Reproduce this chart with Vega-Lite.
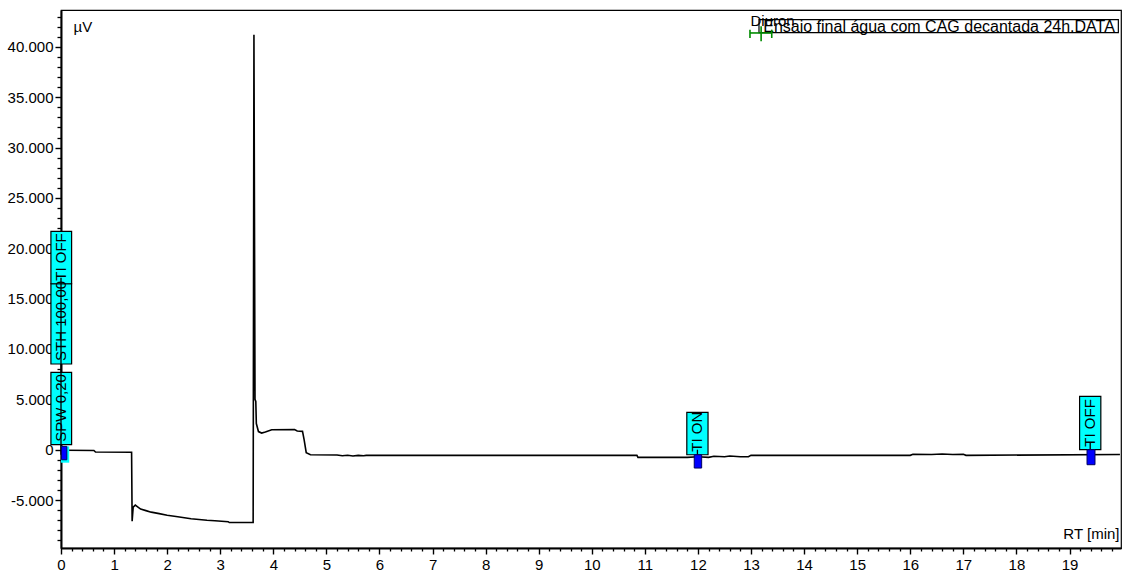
{
  "$schema": "https://vega.github.io/schema/vega-lite/v6.json",
  "width": 1060,
  "height": 538,
  "autosize": {"type": "none"},
  "padding": {"left": 61, "top": 10, "right": 4, "bottom": 24},
  "background": "white",
  "config": {
    "view": {"stroke": "black", "strokeWidth": 1.2},
    "font": "Liberation Sans",
    "axis": {"grid": false, "tickColor": "black", "domainColor": "black", "labelColor": "black", "titleColor": "black", "labelFont": "Liberation Sans", "titleFont": "Liberation Sans", "titleFontWeight": "normal"}
  },
  "datasets": {
    "trace": [
      {"t": 0.0, "v": -50}, {"t": 0.1, "v": -60}, {"t": 0.62, "v": -80}, {"t": 0.65, "v": -230},
      {"t": 1.33, "v": -250}, {"t": 1.34, "v": -7100}, {"t": 1.36, "v": -5700}, {"t": 1.4, "v": -5500},
      {"t": 1.45, "v": -5700}, {"t": 1.5, "v": -5900}, {"t": 1.6, "v": -6050}, {"t": 1.7, "v": -6200},
      {"t": 1.85, "v": -6350}, {"t": 2.0, "v": -6500}, {"t": 2.2, "v": -6650}, {"t": 2.45, "v": -6850},
      {"t": 2.75, "v": -7000}, {"t": 2.9, "v": -7050}, {"t": 3.15, "v": -7150}, {"t": 3.17, "v": -7230},
      {"t": 3.62, "v": -7230}, {"t": 3.635, "v": 41200}, {"t": 3.655, "v": 5000}, {"t": 3.67, "v": 4800},
      {"t": 3.68, "v": 2600}, {"t": 3.72, "v": 1800}, {"t": 3.78, "v": 1650}, {"t": 3.85, "v": 1750},
      {"t": 3.97, "v": 1980}, {"t": 4.4, "v": 1990}, {"t": 4.45, "v": 1850}, {"t": 4.55, "v": 1820},
      {"t": 4.58, "v": 1000}, {"t": 4.62, "v": -300}, {"t": 4.7, "v": -500}, {"t": 5.2, "v": -520},
      {"t": 5.3, "v": -600}, {"t": 5.4, "v": -550}, {"t": 5.5, "v": -620}, {"t": 5.6, "v": -560},
      {"t": 5.7, "v": -600}, {"t": 5.75, "v": -560}, {"t": 6.0, "v": -560}, {"t": 10.85, "v": -560},
      {"t": 10.87, "v": -760}, {"t": 11.8, "v": -760}, {"t": 12.0, "v": -700}, {"t": 12.2, "v": -760},
      {"t": 12.3, "v": -650}, {"t": 12.5, "v": -700}, {"t": 12.6, "v": -620}, {"t": 12.8, "v": -700},
      {"t": 12.95, "v": -700}, {"t": 13.0, "v": -560}, {"t": 16.0, "v": -560}, {"t": 16.05, "v": -450},
      {"t": 16.4, "v": -470}, {"t": 16.6, "v": -430}, {"t": 16.8, "v": -470}, {"t": 17.0, "v": -450},
      {"t": 17.05, "v": -560}, {"t": 19.95, "v": -480}
    ],
    "boxes": [
      {"label": "SPW 0,20", "x": -0.19, "x2": 0.2, "xc": 0.0, "y": 500, "y2": 7680, "ty": 800},
      {"label": "STH 100,00", "x": -0.19, "x2": 0.2, "xc": 0.0, "y": 8510, "y2": 16480, "ty": 8810},
      {"label": "TI OFF", "x": -0.19, "x2": 0.2, "xc": 0.0, "y": 16480, "y2": 21680, "ty": 16780},
      {"label": "TI ON", "x": 11.79, "x2": 12.19, "xc": 11.99, "y": -500, "y2": 3700, "ty": -200},
      {"label": "TI OFF", "x": 19.19, "x2": 19.59, "xc": 19.39, "y": 0, "y2": 5290, "ty": 300}
    ],
    "backs": [
      {"x": 0.0, "x2": 0.155, "y": 330, "y2": -1290}
    ],
    "markers": [
      {"x": 0.01, "x2": 0.11, "y": 330, "y2": -1000},
      {"x": 11.93, "x2": 12.07, "y": -500, "y2": -1820},
      {"x": 19.33, "x2": 19.48, "y": 0, "y2": -1490}
    ],
    "stems": [
      {"x": 0.0, "y": 17080, "y2": -500},
      {"x": 11.99, "y": 0, "y2": -700},
      {"x": 19.39, "y": 700, "y2": -500}
    ],
    "legend": [
      {"label": "Ensaio final água com CAG decantada 24h.DATA", "x": 13.15, "x2": 19.92, "y": 41410, "y2": 42700, "tx": 13.23, "ty": 41510}
    ],
    "peaks": [
      {"label": "Diuron", "x": 12.99, "y": 42100}
    ],
    "green": [
      {"x": 12.98, "x2": 13.39, "y": 41380, "y2": 41380},
      {"x": 12.98, "x2": 12.98, "y": 40880, "y2": 41710},
      {"x": 13.19, "x2": 13.19, "y": 40550, "y2": 42040},
      {"x": 13.39, "x2": 13.39, "y": 40880, "y2": 41710}
    ]
  },
  "resolve": {"axis": {"x": "independent", "y": "independent"}},
  "layer": [
    {
      "data": {"name": "trace"},
      "mark": {"type": "line", "color": "black", "strokeWidth": 1.6, "interpolate": "linear"},
      "encoding": {
        "x": {"field": "t", "type": "quantitative",
          "scale": {"domain": [0, 19.97], "nice": false, "zero": false},
          "axis": {"orient": "bottom", "values": [0,1,2,3,4,5,6,7,8,9,10,11,12,13,14,15,16,17,18,19],
            "tickSize": 6, "tickWidth": 1.4, "domainWidth": 2, "labelFontSize": 15, "labelPadding": 3,
            "labelFlush": false, "labelOverlap": false,
            "title": "RT [min]", "titleFontSize": 15, "titleAngle": 0, "titleAlign": "right", "titleBaseline": "alphabetic",
            "titleX": 1058, "titleY": -10}},
        "y": {"field": "v", "type": "quantitative",
          "scale": {"domain": [-9760, 43660], "nice": false, "zero": false},
          "axis": {"orient": "left", "values": [-5000,0,5000,10000,15000,20000,25000,30000,35000,40000],
            "tickSize": 6, "tickWidth": 1.4, "domainWidth": 2, "labelFontSize": 15, "labelPadding": 2,
            "labelFlush": false, "labelOverlap": false,
            "labelExpr": "datum.value < 0 ? '-' + replace(format(-datum.value, ','), ',', '.') : replace(format(datum.value, ','), ',', '.')",
            "title": "µV", "titleFontSize": 15, "titleAngle": 0, "titleAlign": "left", "titleBaseline": "alphabetic",
            "titleX": 12, "titleY": 21}}
      }
    },
    {
      "data": {"name": "backs"},
      "mark": {"type": "rect", "color": "#00FFFF"},
      "encoding": {
        "x": {"field": "x", "type": "quantitative", "scale": {"domain": [0, 19.97], "nice": false, "zero": false},
          "axis": {"orient": "bottom", "values": [0.2,0.4,0.6,0.8,1.2,1.4,1.6,1.8,2.2,2.4,2.6,2.8,3.2,3.4,3.6,3.8,4.2,4.4,4.6,4.8,5.2,5.4,5.6,5.8,6.2,6.4,6.6,6.8,7.2,7.4,7.6,7.8,8.2,8.4,8.6,8.8,9.2,9.4,9.6,9.8,10.2,10.4,10.6,10.8,11.2,11.4,11.6,11.8,12.2,12.4,12.6,12.8,13.2,13.4,13.6,13.8,14.2,14.4,14.6,14.8,15.2,15.4,15.6,15.8,16.2,16.4,16.6,16.8,17.2,17.4,17.6,17.8,18.2,18.4,18.6,18.8,19.2,19.4,19.6,19.8],
            "tickSize": 3, "tickWidth": 1.3, "labels": false, "domain": false, "title": null}},
        "x2": {"field": "x2"},
        "y": {"field": "y", "type": "quantitative", "scale": {"domain": [-9760, 43660], "nice": false, "zero": false},
          "axis": {"orient": "left", "values": [-9000,-8000,-7000,-6000,-4000,-3000,-2000,-1000,1000,2000,3000,4000,6000,7000,8000,9000,11000,12000,13000,14000,16000,17000,18000,19000,21000,22000,23000,24000,26000,27000,28000,29000,31000,32000,33000,34000,36000,37000,38000,39000,41000,42000,43000],
            "tickSize": 4, "tickWidth": 1.3, "labels": false, "domain": false, "title": null}},
        "y2": {"field": "y2"}
      }
    },
    {
      "data": {"name": "boxes"},
      "mark": {"type": "rect", "fill": "#00FFFF", "stroke": "black", "strokeWidth": 1.2},
      "encoding": {
        "x": {"field": "x", "type": "quantitative", "scale": {"domain": [0, 19.97], "nice": false, "zero": false}, "axis": null},
        "x2": {"field": "x2"},
        "y": {"field": "y", "type": "quantitative", "scale": {"domain": [-9760, 43660], "nice": false, "zero": false}, "axis": null},
        "y2": {"field": "y2"}
      }
    },
    {
      "data": {"name": "boxes"},
      "mark": {"type": "text", "angle": 270, "align": "left", "baseline": "middle", "fontSize": 15, "color": "black", "font": "Liberation Sans"},
      "encoding": {
        "x": {"field": "xc", "type": "quantitative", "scale": {"domain": [0, 19.97], "nice": false, "zero": false}, "axis": null},
        "y": {"field": "ty", "type": "quantitative", "scale": {"domain": [-9760, 43660], "nice": false, "zero": false}, "axis": null},
        "text": {"field": "label"}
      }
    },
    {
      "data": {"name": "stems"},
      "mark": {"type": "rule", "color": "black", "strokeWidth": 1.3},
      "encoding": {
        "x": {"field": "x", "type": "quantitative", "scale": {"domain": [0, 19.97], "nice": false, "zero": false}, "axis": null},
        "y": {"field": "y", "type": "quantitative", "scale": {"domain": [-9760, 43660], "nice": false, "zero": false}, "axis": null},
        "y2": {"field": "y2"}
      }
    },
    {
      "data": {"name": "markers"},
      "mark": {"type": "rect", "fill": "#0000FF", "stroke": "#000060", "strokeWidth": 1},
      "encoding": {
        "x": {"field": "x", "type": "quantitative", "scale": {"domain": [0, 19.97], "nice": false, "zero": false}, "axis": null},
        "x2": {"field": "x2"},
        "y": {"field": "y", "type": "quantitative", "scale": {"domain": [-9760, 43660], "nice": false, "zero": false}, "axis": null},
        "y2": {"field": "y2"}
      }
    },
    {
      "data": {"name": "legend"},
      "mark": {"type": "rect", "fill": "white", "stroke": "black", "strokeWidth": 1.2},
      "encoding": {
        "x": {"field": "x", "type": "quantitative", "scale": {"domain": [0, 19.97], "nice": false, "zero": false}, "axis": null},
        "x2": {"field": "x2"},
        "y": {"field": "y", "type": "quantitative", "scale": {"domain": [-9760, 43660], "nice": false, "zero": false}, "axis": null},
        "y2": {"field": "y2"}
      }
    },
    {
      "data": {"name": "legend"},
      "mark": {"type": "text", "align": "left", "baseline": "alphabetic", "fontSize": 16, "color": "black", "font": "Liberation Sans"},
      "encoding": {
        "x": {"field": "tx", "type": "quantitative", "scale": {"domain": [0, 19.97], "nice": false, "zero": false}, "axis": null},
        "y": {"field": "ty", "type": "quantitative", "scale": {"domain": [-9760, 43660], "nice": false, "zero": false}, "axis": null},
        "text": {"field": "label"}
      }
    },
    {
      "data": {"name": "peaks"},
      "mark": {"type": "text", "align": "left", "baseline": "alphabetic", "fontSize": 15, "color": "black", "font": "Liberation Sans"},
      "encoding": {
        "x": {"field": "x", "type": "quantitative", "scale": {"domain": [0, 19.97], "nice": false, "zero": false}, "axis": null},
        "y": {"field": "y", "type": "quantitative", "scale": {"domain": [-9760, 43660], "nice": false, "zero": false}, "axis": null},
        "text": {"field": "label"}
      }
    },
    {
      "data": {"name": "green"},
      "mark": {"type": "rule", "color": "#008C00", "strokeWidth": 1.6},
      "encoding": {
        "x": {"field": "x", "type": "quantitative", "scale": {"domain": [0, 19.97], "nice": false, "zero": false}, "axis": null},
        "x2": {"field": "x2"},
        "y": {"field": "y", "type": "quantitative", "scale": {"domain": [-9760, 43660], "nice": false, "zero": false}, "axis": null},
        "y2": {"field": "y2"}
      }
    }
  ]
}
